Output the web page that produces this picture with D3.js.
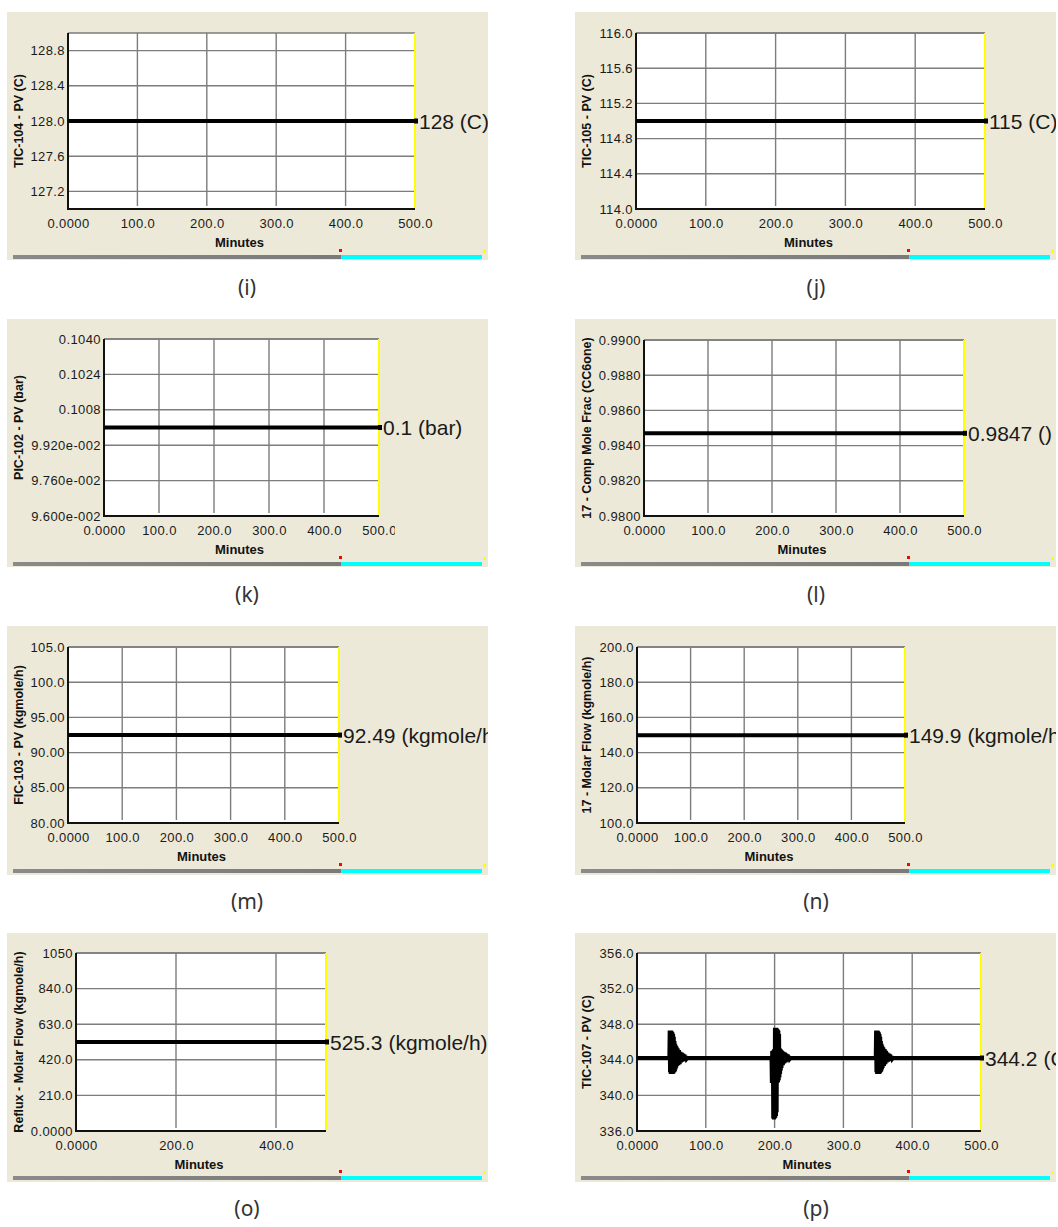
<!DOCTYPE html>
<html>
<head>
<meta charset="utf-8">
<script src="https://cdn.jsdelivr.net/npm/d3@7"></script>
<style>
  html, body { margin: 0; padding: 0; background: #ffffff; }
  svg { display: block; }
</style>
</head>
<body>
<svg id="chart" width="1058" height="1227"></svg>
<script>
// ---------- shared time axis (minutes) ----------
const timeTicks = [0, 100, 200, 300, 400, 500];
const timeTickLabels = ["0.0000", "100.0", "200.0", "300.0", "400.0", "500.0"];
const timeTicksReflux = [0, 200, 400];
const timeTickLabelsReflux = ["0.0000", "200.0", "400.0"];
const flatTime = [0, 500];

// ---------- (i) TIC-104 ----------
const tic104Range = [127.0, 129.0];
const tic104Ticks = [127.2, 127.6, 128.0, 128.4, 128.8];
const tic104TickLabels = ["127.2", "127.6", "128.0", "128.4", "128.8"];
const tic104Values = [128, 128];

// ---------- (j) TIC-105 ----------
const tic105Range = [114.0, 116.0];
const tic105Ticks = [114.0, 114.4, 114.8, 115.2, 115.6, 116.0];
const tic105TickLabels = ["114.0", "114.4", "114.8", "115.2", "115.6", "116.0"];
const tic105Values = [115, 115];

// ---------- (k) PIC-102 ----------
const pic102Range = [0.096, 0.104];
const pic102Ticks = [0.096, 0.0976, 0.0992, 0.1008, 0.1024, 0.104];
const pic102TickLabels = ["9.600e-002", "9.760e-002", "9.920e-002", "0.1008", "0.1024", "0.1040"];
const pic102Values = [0.1, 0.1];

// ---------- (l) stream 17 composition ----------
const compRange = [0.98, 0.99];
const compTicks = [0.98, 0.982, 0.984, 0.986, 0.988, 0.99];
const compTickLabels = ["0.9800", "0.9820", "0.9840", "0.9860", "0.9880", "0.9900"];
const compValues = [0.9847, 0.9847];

// ---------- (m) FIC-103 ----------
const fic103Range = [80, 105];
const fic103Ticks = [80, 85, 90, 95, 100, 105];
const fic103TickLabels = ["80.00", "85.00", "90.00", "95.00", "100.0", "105.0"];
const fic103Values = [92.49, 92.49];

// ---------- (n) stream 17 molar flow ----------
const flow17Range = [100, 200];
const flow17Ticks = [100, 120, 140, 160, 180, 200];
const flow17TickLabels = ["100.0", "120.0", "140.0", "160.0", "180.0", "200.0"];
const flow17Values = [149.9, 149.9];

// ---------- (o) reflux molar flow ----------
const refluxRange = [0, 1050];
const refluxTicks = [0, 210, 420, 630, 840, 1050];
const refluxTickLabels = ["0.0000", "210.0", "420.0", "630.0", "840.0", "1050"];
const refluxValues = [525.3, 525.3];

// ---------- (p) TIC-107 with three disturbances ----------
const tic107Range = [336, 356];
const tic107Ticks = [336, 340, 344, 348, 352, 356];
const tic107TickLabels = ["336.0", "340.0", "344.0", "348.0", "352.0", "356.0"];
const tic107Time = [
  0, 47,
  47.5, 48, 48.5, 49, 49.5, 50, 50.5, 51, 51.5, 52, 52.5, 53, 53.5, 54, 54.5, 55, 55.5, 56, 56.5, 57, 57.5,
  58, 59, 60, 61, 62, 63, 64, 65, 66, 67, 68, 69, 70, 71, 72, 73,
  195.5, 196, 196.5, 197, 197.5, 198, 198.5, 199, 199.5, 200, 200.5, 201, 201.5, 202, 202.5, 203, 203.5,
  204, 204.5, 205, 205.5, 206, 206.5, 207, 207.5, 208, 208.5, 209, 209.5, 210,
  211, 212, 213, 214, 215, 216, 217, 218, 219, 220, 221, 222, 223,
  347, 347.5, 348, 348.5, 349, 349.5, 350, 350.5, 351, 351.5, 352, 352.5, 353, 353.5, 354, 354.5, 355, 355.5, 356, 356.5, 357,
  358, 359, 360, 361, 362, 363, 364, 365, 366, 367, 368, 369, 370, 371, 372, 373,
  500
];
const tic107Values = [
  344.2, 344.2,
  347.3, 342.6, 347.3, 342.4, 347.3, 342.4, 347.2, 342.4, 347.1, 342.4, 346.9, 342.5, 346.6, 342.6, 346.1, 342.7, 345.8, 342.9, 345.6, 343.1, 345.5,
  343.3, 345.3, 343.4, 345.1, 343.5, 344.9, 343.7, 344.8, 343.8, 344.7, 343.9, 344.6, 344.0, 344.4, 344.1, 344.2,
  344.2, 341.4, 345.0, 341.4, 345.0, 337.4, 345.1, 337.3, 345.2, 337.4, 347.6, 337.5, 347.6, 337.7, 347.6, 338.1, 347.5,
  341.4, 347.4, 341.5, 347.3, 341.7, 346.9, 342.0, 345.3, 342.4, 345.2, 342.8, 345.1, 343.1,
  345.0, 343.4, 344.9, 343.6, 344.8, 343.7, 344.7, 343.8, 344.6, 343.9, 344.4, 344.1, 344.2,
  344.2, 347.3, 342.6, 347.3, 342.4, 347.3, 342.4, 347.2, 342.4, 347.1, 342.4, 346.9, 342.5, 346.6, 342.6, 346.1, 342.7, 345.8, 342.9, 345.6, 343.1,
  345.4, 343.3, 345.2, 343.5, 345.0, 343.7, 344.8, 343.8, 344.7, 343.9, 344.6, 344.0, 344.4, 344.1, 344.2, 344.2,
  344.2
];

// ---------- axis titles, end-of-trace readouts, captions ----------
const yTitles = [
  "TIC-104 - PV (C)", "TIC-105 - PV (C)", "PIC-102 - PV (bar)", "17 - Comp Mole Frac (CC6one)",
  "FIC-103 - PV (kgmole/h)", "17 - Molar Flow (kgmole/h)", "Reflux - Molar Flow (kgmole/h)", "TIC-107 - PV (C)"
];
const readouts = [
  "128 (C)", "115 (C)", "0.1 (bar)", "0.9847 ()",
  "92.49 (kgmole/h)", "149.9 (kgmole/h)", "525.3 (kgmole/h)", "344.2 (C)"
];
const captions = ["(i)", "(j)", "(k)", "(l)", "(m)", "(n)", "(o)", "(p)"];
const xTitle = "Minutes";

// ---------- chart series wiring ----------
const series = [
  { time: flatTime, values: tic104Values, range: tic104Range, ticks: tic104Ticks, labels: tic104TickLabels, xt: timeTicks, xl: timeTickLabels },
  { time: flatTime, values: tic105Values, range: tic105Range, ticks: tic105Ticks, labels: tic105TickLabels, xt: timeTicks, xl: timeTickLabels },
  { time: flatTime, values: pic102Values, range: pic102Range, ticks: pic102Ticks, labels: pic102TickLabels, xt: timeTicks, xl: timeTickLabels },
  { time: flatTime, values: compValues, range: compRange, ticks: compTicks, labels: compTickLabels, xt: timeTicks, xl: timeTickLabels },
  { time: flatTime, values: fic103Values, range: fic103Range, ticks: fic103Ticks, labels: fic103TickLabels, xt: timeTicks, xl: timeTickLabels },
  { time: flatTime, values: flow17Values, range: flow17Range, ticks: flow17Ticks, labels: flow17TickLabels, xt: timeTicks, xl: timeTickLabels },
  { time: flatTime, values: refluxValues, range: refluxRange, ticks: refluxTicks, labels: refluxTickLabels, xt: timeTicksReflux, xl: timeTickLabelsReflux },
  { time: tic107Time, values: tic107Values, range: tic107Range, ticks: tic107Ticks, labels: tic107TickLabels, xt: timeTicks, xl: timeTickLabels }
];

// ---------- layout of the eight strip-chart panels ----------
const PANEL_W = 481;
const layout = [
  { px: 7,   py: 12,  ph: 248, l: 68,  r: 415, t: 33,  b: 209 },
  { px: 575, py: 12,  ph: 248, l: 636, r: 985, t: 33,  b: 209 },
  { px: 7,   py: 319, ph: 248, l: 104, r: 379, t: 339, b: 516, xLabelClip: 395 },
  { px: 575, py: 319, ph: 248, l: 644, r: 964, t: 340, b: 516 },
  { px: 7,   py: 626, ph: 249, l: 68,  r: 339, t: 647, b: 823 },
  { px: 575, py: 626, ph: 249, l: 637, r: 905, t: 647, b: 823 },
  { px: 7,   py: 933, ph: 249, l: 76,  r: 326, t: 953, b: 1131 },
  { px: 575, py: 933, ph: 249, l: 637, r: 981, t: 953, b: 1131 }
];

const svg = d3.select("#chart");
const defs = svg.append("defs");

const grayGrad = defs.append("linearGradient").attr("id", "barGray");
grayGrad.append("stop").attr("offset", "0%").attr("stop-color", "#8a8a8a");
grayGrad.append("stop").attr("offset", "100%").attr("stop-color", "#7a7a7a");

const TICK_FONT = "'Liberation Sans', Arial, sans-serif";

layout.forEach((L, i) => {
  const s = series[i];
  const g = svg.append("g");

  // clip to the panel so long readouts are cut at its edge
  const clipId = "clip" + i;
  defs.append("clipPath").attr("id", clipId)
    .append("rect").attr("x", L.px).attr("y", L.py).attr("width", PANEL_W).attr("height", L.ph);

  // panel background
  g.append("rect")
    .attr("x", L.px).attr("y", L.py).attr("width", PANEL_W).attr("height", L.ph)
    .attr("fill", "#ece9d8");

  const x = d3.scaleLinear().domain([0, 500]).range([L.l, L.r]);
  const y = d3.scaleLinear().domain(s.range).range([L.b, L.t]);

  // plot area
  g.append("rect")
    .attr("x", L.l).attr("y", L.t).attr("width", L.r - L.l).attr("height", L.b - L.t)
    .attr("fill", "#ffffff");

  // grid
  const grid = g.append("g").attr("stroke", "#7d7d7d").attr("stroke-width", 1.4);
  s.ticks.forEach(v => {
    grid.append("line")
      .attr("x1", L.l).attr("x2", L.r)
      .attr("y1", y(v)).attr("y2", y(v));
  });
  s.xt.forEach(v => {
    if (v === 0) return;
    grid.append("line")
      .attr("x1", x(v)).attr("x2", x(v))
      .attr("y1", L.t).attr("y2", L.b - 3);
  });
  // top border
  grid.append("line").attr("x1", L.l).attr("x2", L.r).attr("y1", L.t).attr("y2", L.t);

  // y axis labels
  const yAxis = d3.axisLeft(y)
    .tickValues(s.ticks)
    .tickFormat((d, k) => s.labels[k])
    .tickSize(0)
    .tickPadding(3);
  const ya = g.append("g").attr("transform", `translate(${L.l},0)`).call(yAxis);
  ya.select(".domain").remove();
  ya.selectAll("text")
    .attr("font-family", TICK_FONT).attr("font-size", 13).attr("letter-spacing", "0.4px")
    .attr("fill", "#1a1a1a");

  // x axis labels (optionally clipped on the right, as the strip chart does)
  const xWrap = g.append("g");
  if (L.xLabelClip) {
    const xcId = "xclip" + i;
    defs.append("clipPath").attr("id", xcId)
      .append("rect").attr("x", L.px).attr("y", L.py).attr("width", L.xLabelClip - L.px).attr("height", L.ph);
    xWrap.attr("clip-path", `url(#${xcId})`);
  }
  const xAxis = d3.axisBottom(x)
    .tickValues(s.xt)
    .tickFormat((d, k) => s.xl[k])
    .tickSize(0)
    .tickPadding(10);
  const xa = xWrap.append("g").attr("transform", `translate(0,${L.b})`).call(xAxis);
  xa.select(".domain").remove();
  xa.selectAll("text")
    .attr("font-family", TICK_FONT).attr("font-size", 13).attr("letter-spacing", "0.4px")
    .attr("fill", "#1a1a1a");

  // solid left and bottom axes
  g.append("line").attr("x1", L.l).attr("x2", L.l).attr("y1", L.t).attr("y2", L.b + 1)
    .attr("stroke", "#111").attr("stroke-width", 2);
  g.append("line").attr("x1", L.l - 1).attr("x2", L.r).attr("y1", L.b).attr("y2", L.b)
    .attr("stroke", "#111").attr("stroke-width", 2);

  // yellow "now" cursor at the right edge
  g.append("line").attr("x1", L.r).attr("x2", L.r).attr("y1", L.t).attr("y2", L.b - 1)
    .attr("stroke", "#ffff00").attr("stroke-width", 2);

  // trace
  const pts = s.time.map((t, k) => [t, s.values[k]]);
  const line = d3.line().x(d => x(d[0])).y(d => y(d[1]));
  g.append("path")
    .attr("d", line(pts))
    .attr("fill", "none")
    .attr("stroke", "#000")
    .attr("stroke-width", 4)
    .attr("stroke-linejoin", "miter");

  const last = pts[pts.length - 1];
  g.append("rect")
    .attr("x", x(last[0]) - 1).attr("y", y(last[1]) - 2.5)
    .attr("width", 4).attr("height", 5).attr("fill", "#000");

  // readout of the latest value
  g.append("text")
    .attr("clip-path", `url(#${clipId})`)
    .attr("x", x(last[0]) + 4).attr("y", y(last[1]))
    .attr("dy", "0.36em")
    .attr("font-family", TICK_FONT).attr("font-size", 21)
    .attr("fill", "#1a1a1a")
    .text(readouts[i]);

  // axis titles
  g.append("text")
    .attr("x", (L.l + L.r) / 2 - 2).attr("y", L.b + 33)
    .attr("text-anchor", "middle").attr("dy", "0.36em")
    .attr("font-family", TICK_FONT).attr("font-size", 13).attr("font-weight", "bold")
    .attr("fill", "#111")
    .text(xTitle);

  g.append("text")
    .attr("transform", `translate(${L.px + 11},${(L.t + L.b) / 2}) rotate(-90)`)
    .attr("text-anchor", "middle").attr("dy", "0.36em")
    .attr("font-family", TICK_FONT).attr("font-size", 12.5).attr("font-weight", "bold")
    .attr("fill", "#111")
    .text(yTitles[i]);

  // scroll bar along the panel foot
  const barY = L.py + 245;
  const split = L.px + 334;
  const end = L.px + 475;
  g.append("rect").attr("x", L.px + 6).attr("y", barY - 2).attr("width", split - L.px - 6).attr("height", 4)
    .attr("fill", "url(#barGray)");
  g.append("rect").attr("x", split).attr("y", barY - 2).attr("width", end - split).attr("height", 4)
    .attr("fill", "#00ffff");
  g.append("rect").attr("x", split - 2).attr("y", barY - 8).attr("width", 3).attr("height", 3)
    .attr("fill", "#ff0000");
  g.append("rect").attr("x", end + 1).attr("y", barY - 7).attr("width", 3).attr("height", 3)
    .attr("fill", "#ffff00");

  // caption under the panel
  svg.append("text")
    .attr("x", i % 2 === 0 ? 247 : 816)
    .attr("y", L.py + 275)
    .attr("text-anchor", "middle").attr("dy", "0.36em")
    .attr("font-family", "'Noto Sans', 'DejaVu Sans', sans-serif").attr("font-size", 21)
    .attr("fill", "#333")
    .text(captions[i]);
});
</script>
</body>
</html>
